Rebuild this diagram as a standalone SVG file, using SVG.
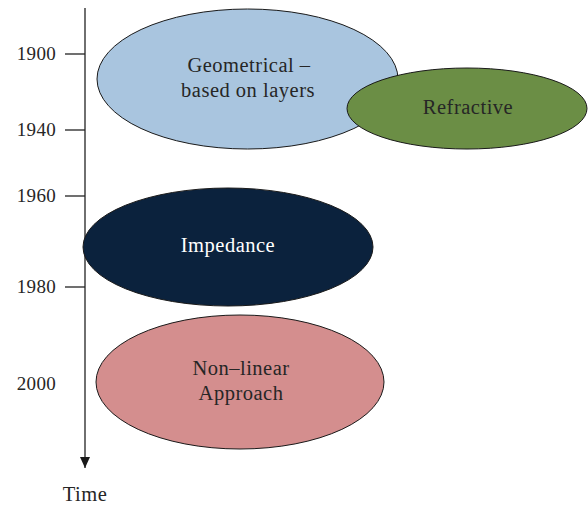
<svg xmlns="http://www.w3.org/2000/svg" width="588" height="506" viewBox="0 0 588 506">
<style>
text{font-family:"Liberation Serif","Times New Roman",serif;font-size:20.5px;letter-spacing:0.5px;fill:#262626}
.yr{text-anchor:end;font-size:19px;letter-spacing:0.3px}
.lbl{text-anchor:middle}
.ax{stroke:#222;stroke-width:1.3;fill:none}
.node ellipse{stroke:#1a1a1a;stroke-width:1}
</style>
<defs>
<marker id="arr" markerWidth="12" markerHeight="10" refX="11" refY="5" orient="auto" markerUnits="userSpaceOnUse">
<path d="M0,0 L11,5 L0,10 Z" fill="#1a1a1a"/>
</marker>
</defs>
<rect width="588" height="506" fill="#fff"/>
<g id="axis">
<line class="ax" x1="85" y1="8" x2="85" y2="468" marker-end="url(#arr)"/>
<line class="ax" x1="65" y1="54" x2="85" y2="54"/>
<line class="ax" x1="65" y1="130" x2="85" y2="130"/>
<line class="ax" x1="65" y1="196" x2="85" y2="196"/>
<line class="ax" x1="65" y1="287" x2="85" y2="287"/>
<text class="yr" x="56" y="60">1900</text>
<text class="yr" x="56" y="136">1940</text>
<text class="yr" x="56" y="202">1960</text>
<text class="yr" x="56" y="293">1980</text>
<text class="yr" x="56" y="390">2000</text>
<text class="lbl" x="85" y="501">Time</text>
</g>
<g id="geometrical" class="node">
<ellipse cx="247.5" cy="79" rx="150.5" ry="70" fill="#a9c5df"/>
<text class="lbl" x="249" y="72">Geometrical –</text>
<text class="lbl" x="248" y="97">based on layers</text>
</g>
<g id="refractive" class="node">
<ellipse cx="467" cy="108.5" rx="120" ry="40.5" fill="#6b8e45"/>
<text class="lbl" x="468" y="114">Refractive</text>
</g>
<g id="impedance" class="node">
<ellipse cx="228" cy="247" rx="145" ry="59" fill="#0b223d"/>
<text class="lbl" x="228" y="252" style="fill:#fff">Impedance</text>
</g>
<g id="nonlinear" class="node">
<ellipse cx="240" cy="382" rx="144" ry="67" fill="#d48e8e"/>
<text class="lbl" x="241" y="375">Non–linear</text>
<text class="lbl" x="241" y="400">Approach</text>
</g>
</svg>
